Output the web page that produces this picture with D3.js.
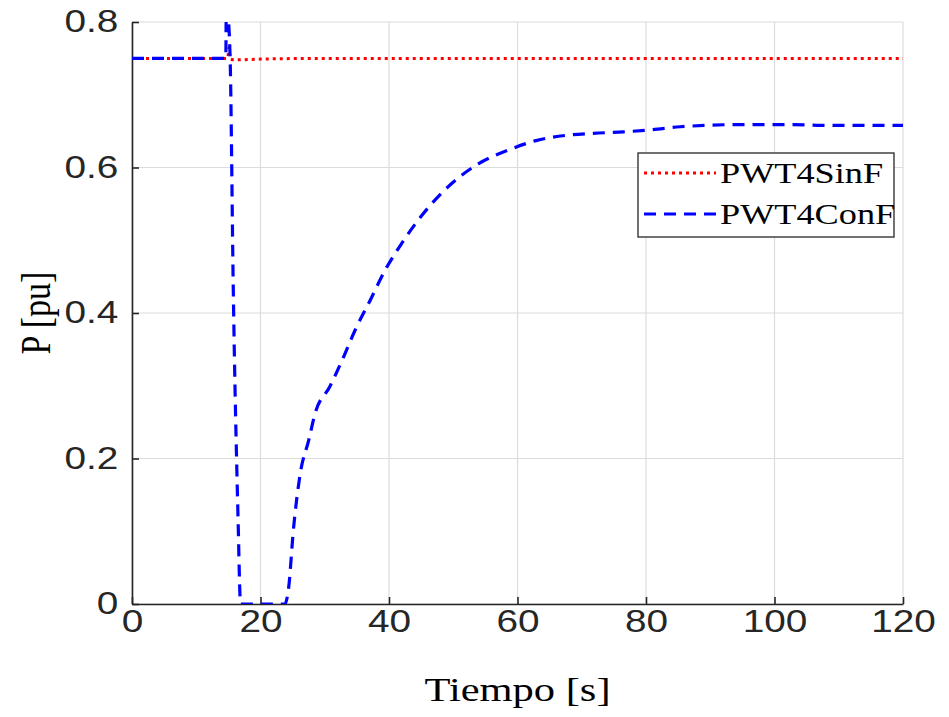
<!DOCTYPE html>
<html><head><meta charset="utf-8">
<script src="https://cdn.jsdelivr.net/npm/d3@7"></script>
<style>body{margin:0;background:#fff}svg{display:block}</style>
</head><body>
<script>
const xTicks = [0, 20, 40, 60, 80, 100, 120];
const yTicks = [0, 0.2, 0.4, 0.6, 0.8];
const seriesNames = ["PWT4SinF", "PWT4ConF"];
const sinT = [0, 14.9, 15.1, 15.3, 16, 20, 30, 120];
const sinP = [0.75, 0.75, 0.765, 0.749, 0.748, 0.749, 0.75, 0.75];
const conT = [0, 14.6, 14.7, 14.9, 15.3, 15.75, 16.5, 16.9, 20, 23.8, 24.4, 25.1, 26.2, 27.5, 28.5, 30.8, 32.7, 34.7, 37.1, 39.4, 42.0, 45.1, 49.5, 53.9, 58.6, 62.9, 67.4, 71.8, 76.5, 80.9, 85.3, 89.7, 94.1, 98.5, 102.9, 107.3, 111.7, 116.1, 120];
const conP = [0.75, 0.75, 0.86, 0.82, 0.74, 0.44, 0.12, 0, 0, 0, 0.024, 0.10, 0.18, 0.225, 0.262, 0.299, 0.335, 0.376, 0.418, 0.459, 0.496, 0.534, 0.576, 0.605, 0.624, 0.637, 0.644, 0.647, 0.649, 0.652, 0.656, 0.658, 0.659, 0.659, 0.659, 0.658, 0.658, 0.658, 0.658];

const W = 949, H = 717;
const L = 132, R = 903, T = 22, B = 604;
const SX = 1.25; // horizontal text stretch seen in the reference
const svg = d3.select("body").append("svg").attr("width", W).attr("height", H);
const x = d3.scaleLinear().domain([0, 120]).range([L, R]);
const y = d3.scaleLinear().domain([0, 0.8]).range([B, T]);

// grid
const g = svg.append("g");
g.selectAll("line.gx").data(xTicks).join("line")
  .attr("x1", d => x(d)).attr("x2", d => x(d)).attr("y1", T).attr("y2", B)
  .attr("stroke", "#dcdcdc").attr("stroke-width", 1.2);
g.selectAll("line.gy").data(yTicks).join("line")
  .attr("y1", d => y(d)).attr("y2", d => y(d)).attr("x1", L).attr("x2", R)
  .attr("stroke", "#dcdcdc").attr("stroke-width", 1.2);

// axes
const xAxis = d3.axisBottom(x).tickValues(xTicks).tickSizeInner(-7).tickSizeOuter(0).tickPadding(6);
const yAxis = d3.axisLeft(y).tickValues(yTicks).tickSizeInner(-7).tickSizeOuter(0).tickPadding(11)
  .tickFormat(d => d === 0 ? "0" : d3.format(".1f")(d));
const ax = svg.append("g").attr("transform", `translate(0,${B})`).call(xAxis);
const ay = svg.append("g").attr("transform", `translate(${L},0)`).call(yAxis);
[ax, ay].forEach(a => {
  a.select(".domain").attr("stroke", "#262626").attr("stroke-width", 1.6);
  a.selectAll(".tick line").attr("stroke", "#262626").attr("stroke-width", 1.6);
  a.selectAll(".tick text").attr("fill", "#262626")
    .style("font-family", "'Liberation Sans', Arial, sans-serif").style("font-size", "31px")
    .attr("transform", `scale(${SX},1)`);
});
ax.selectAll(".tick text").attr("dy", "0.71em");

// clip
svg.append("clipPath").attr("id", "clip").append("rect")
  .attr("x", L).attr("y", T).attr("width", R - L).attr("height", B - T);

const line = d3.line().x(d => x(d[0])).y(d => y(d[1])).curve(d3.curveMonotoneX);
const sinData = sinT.map((t, i) => [t, sinP[i]]);
const conData = conT.map((t, i) => [t, conP[i]]);
const plot = svg.append("g").attr("clip-path", "url(#clip)");
plot.append("path").datum(sinData).attr("d", line)
  .attr("fill", "none").attr("stroke", "#ff0000").attr("stroke-width", 3)
  .attr("stroke-dasharray", "3,4");
plot.append("path").datum(conData).attr("d", line)
  .attr("fill", "none").attr("stroke", "#0000ff").attr("stroke-width", 3.2)
  .attr("stroke-dasharray", "12,8");

// labels
const serif = "'Liberation Serif', 'Times New Roman', serif";
const xl = (L + R) / 2;
svg.append("text").attr("transform", `translate(${xl},701) scale(${SX},1)`).attr("text-anchor", "middle")
  .style("font-family", serif).style("font-size", "34px").attr("fill", "#000").text("Tiempo [s]");
svg.append("text").attr("transform", `translate(50,313) scale(${SX},1) rotate(-90)`).attr("text-anchor", "middle")
  .style("font-family", serif).style("font-size", "34px").attr("fill", "#000").text("P [pu]");

// legend
const lg = svg.append("g");
lg.append("rect").attr("x", 638).attr("y", 153).attr("width", 256).attr("height", 84)
  .attr("fill", "#fff").attr("stroke", "#262626").attr("stroke-width", 1.3);
const rows = [173, 214];
const styles = [{c: "#ff0000", d: "3,4"}, {c: "#0000ff", d: "12,8"}];
seriesNames.forEach((n, i) => {
  lg.append("line").attr("x1", 644).attr("x2", 716).attr("y1", rows[i]).attr("y2", rows[i])
    .attr("stroke", styles[i].c).attr("stroke-width", 3).attr("stroke-dasharray", styles[i].d);
  lg.append("text").attr("transform", `translate(720,${rows[i]}) scale(${SX},1)`).attr("dy", "0.35em")
    .style("font-family", serif).style("font-size", "29px").attr("fill", "#000").text(n);
});
</script>
</body></html>
